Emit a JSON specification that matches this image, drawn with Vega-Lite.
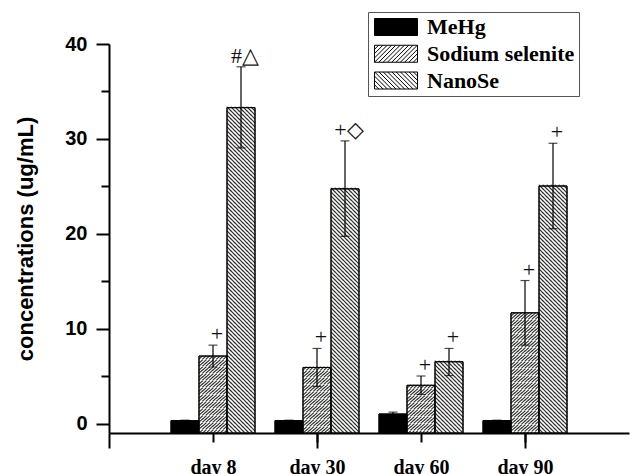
{
  "$schema": "https://vega.github.io/schema/vega-lite/v6.json",
  "width": 520,
  "height": 389,
  "autosize": {"type": "none"},
  "padding": {"left": 109, "top": 44, "right": 1, "bottom": 41},
  "background": "white",
  "config": {
    "view": {"stroke": null},
    "axis": {"domainColor": "black", "tickColor": "black", "labelColor": "black", "titleColor": "black", "domainWidth": 2, "tickWidth": 2, "grid": false},
    "legend": {
      "orient": "none", "legendX": 259, "legendY": -32, "padding": 4,
      "strokeColor": "#555", "fillColor": "white",
      "labelFont": "Liberation Serif", "labelFontWeight": "bold", "labelFontSize": 22, "labelColor": "black",
      "labelOffset": 20, "symbolOffset": 13, "symbolSize": 289, "symbolStrokeColor": "black", "symbolStrokeWidth": 1, "rowPadding": 4.75
    }
  },
  "datasets": {
    "bars": [
      {"day": "day 8", "series": "MeHg", "value": 0.35, "low": 0.3, "high": 0.4},
      {"day": "day 8", "series": "Sodium selenite", "value": 7.15, "low": 6.0, "high": 8.3},
      {"day": "day 8", "series": "NanoSe", "value": 33.3, "low": 29.05, "high": 37.6},
      {"day": "day 30", "series": "MeHg", "value": 0.35, "low": 0.3, "high": 0.4},
      {"day": "day 30", "series": "Sodium selenite", "value": 5.95, "low": 3.95, "high": 7.95},
      {"day": "day 30", "series": "NanoSe", "value": 24.75, "low": 19.75, "high": 29.8},
      {"day": "day 60", "series": "MeHg", "value": 1.05, "low": 0.85, "high": 1.25},
      {"day": "day 60", "series": "Sodium selenite", "value": 4.07, "low": 3.1, "high": 5.05},
      {"day": "day 60", "series": "NanoSe", "value": 6.55, "low": 5.1, "high": 7.95},
      {"day": "day 90", "series": "MeHg", "value": 0.35, "low": 0.3, "high": 0.4},
      {"day": "day 90", "series": "Sodium selenite", "value": 11.7, "low": 8.3, "high": 15.1},
      {"day": "day 90", "series": "NanoSe", "value": 25.05, "low": 20.55, "high": 29.55}
    ],
    "ann": [
      {"day": "day 8", "series": "Sodium selenite", "high": 8.3, "label": "+"},
      {"day": "day 8", "series": "NanoSe", "high": 37.6, "label": "#△"},
      {"day": "day 30", "series": "Sodium selenite", "high": 7.95, "label": "+"},
      {"day": "day 30", "series": "NanoSe", "high": 29.8, "label": "+◇"},
      {"day": "day 60", "series": "Sodium selenite", "high": 5.05, "label": "+"},
      {"day": "day 60", "series": "NanoSe", "high": 7.95, "label": "+"},
      {"day": "day 90", "series": "Sodium selenite", "high": 15.1, "label": "+"},
      {"day": "day 90", "series": "NanoSe", "high": 29.55, "label": "+"}
    ]
  },
  "layer": [
    {
      "data": {"name": "bars"},
      "encoding": {
        "x": {"field": "day", "type": "nominal", "scale": {"domain": ["day 8", "day 30", "day 60", "day 90"], "paddingInner": 0.1923077, "paddingOuter": 0.5961538, "align": 0.5}, "axis": null},
        "xOffset": {"field": "series", "type": "nominal", "scale": {"domain": ["MeHg", "Sodium selenite", "NanoSe"], "paddingInner": 0, "paddingOuter": 0}}
      },
      "layer": [
        {
          "mark": {"type": "bar", "stroke": "black", "strokeWidth": 1},
          "encoding": {
            "y": {"field": "value", "type": "quantitative", "scale": {"domain": [-0.95, 40], "nice": false, "zero": false},
              "axis": {"values": [0, 10, 20, 30, 40], "tickSize": 13, "labelPadding": 9, "labelFont": "Liberation Sans", "labelFontWeight": "bold", "labelFontSize": 20,
                "title": "concentrations (ug/mL)", "titleFont": "Liberation Sans", "titleFontWeight": "bold", "titleFontSize": 22, "titlePadding": 27}},
            "y2": {"datum": -0.95},
            "color": {"field": "series", "type": "nominal", "scale": {"domain": ["MeHg", "Sodium selenite", "NanoSe"], "range": ["black", "white", "white"]},
              "legend": {"title": null, "encode": {"symbols": {"update": {"stroke": {"value": "black"}, "strokeWidth": {"value": 1}}}}}}
          }
        },
        {
          "transform": [{"filter": "datum.series === 'Sodium selenite'"}],
          "mark": {"type": "text", "clip": true, "baseline": "top", "align": "center", "font": "Noto Sans CJK SC", "fontSize": 3.5, "lineHeight": 3.5, "color": "#111", "stroke": "#111", "strokeWidth": 0.7},
          "encoding": {
            "y": {"field": "value", "type": "quantitative", "scale": {"domain": [-0.95, 40], "nice": false, "zero": false}},
            "text": {"value": ["╱╱╱╱╱╱╱╱","╱╱╱╱╱╱╱╱","╱╱╱╱╱╱╱╱","╱╱╱╱╱╱╱╱","╱╱╱╱╱╱╱╱","╱╱╱╱╱╱╱╱","╱╱╱╱╱╱╱╱","╱╱╱╱╱╱╱╱","╱╱╱╱╱╱╱╱","╱╱╱╱╱╱╱╱","╱╱╱╱╱╱╱╱","╱╱╱╱╱╱╱╱","╱╱╱╱╱╱╱╱","╱╱╱╱╱╱╱╱","╱╱╱╱╱╱╱╱","╱╱╱╱╱╱╱╱","╱╱╱╱╱╱╱╱","╱╱╱╱╱╱╱╱","╱╱╱╱╱╱╱╱","╱╱╱╱╱╱╱╱","╱╱╱╱╱╱╱╱","╱╱╱╱╱╱╱╱","╱╱╱╱╱╱╱╱","╱╱╱╱╱╱╱╱","╱╱╱╱╱╱╱╱","╱╱╱╱╱╱╱╱","╱╱╱╱╱╱╱╱","╱╱╱╱╱╱╱╱","╱╱╱╱╱╱╱╱","╱╱╱╱╱╱╱╱","╱╱╱╱╱╱╱╱","╱╱╱╱╱╱╱╱","╱╱╱╱╱╱╱╱","╱╱╱╱╱╱╱╱","╱╱╱╱╱╱╱╱","╱╱╱╱╱╱╱╱","╱╱╱╱╱╱╱╱","╱╱╱╱╱╱╱╱","╱╱╱╱╱╱╱╱","╱╱╱╱╱╱╱╱"]}
          }
        },
        {
          "transform": [{"filter": "datum.series === 'NanoSe'"}],
          "mark": {"type": "text", "clip": true, "baseline": "top", "align": "center", "font": "Noto Sans CJK SC", "fontSize": 4, "lineHeight": 4, "color": "#111", "stroke": "#111", "strokeWidth": 0.7},
          "encoding": {
            "y": {"field": "value", "type": "quantitative", "scale": {"domain": [-0.95, 40], "nice": false, "zero": false}},
            "text": {"value": ["╲╲╲╲╲╲╲","╲╲╲╲╲╲╲","╲╲╲╲╲╲╲","╲╲╲╲╲╲╲","╲╲╲╲╲╲╲","╲╲╲╲╲╲╲","╲╲╲╲╲╲╲","╲╲╲╲╲╲╲","╲╲╲╲╲╲╲","╲╲╲╲╲╲╲","╲╲╲╲╲╲╲","╲╲╲╲╲╲╲","╲╲╲╲╲╲╲","╲╲╲╲╲╲╲","╲╲╲╲╲╲╲","╲╲╲╲╲╲╲","╲╲╲╲╲╲╲","╲╲╲╲╲╲╲","╲╲╲╲╲╲╲","╲╲╲╲╲╲╲","╲╲╲╲╲╲╲","╲╲╲╲╲╲╲","╲╲╲╲╲╲╲","╲╲╲╲╲╲╲","╲╲╲╲╲╲╲","╲╲╲╲╲╲╲","╲╲╲╲╲╲╲","╲╲╲╲╲╲╲","╲╲╲╲╲╲╲","╲╲╲╲╲╲╲","╲╲╲╲╲╲╲","╲╲╲╲╲╲╲","╲╲╲╲╲╲╲","╲╲╲╲╲╲╲","╲╲╲╲╲╲╲","╲╲╲╲╲╲╲","╲╲╲╲╲╲╲","╲╲╲╲╲╲╲","╲╲╲╲╲╲╲","╲╲╲╲╲╲╲","╲╲╲╲╲╲╲","╲╲╲╲╲╲╲","╲╲╲╲╲╲╲","╲╲╲╲╲╲╲","╲╲╲╲╲╲╲","╲╲╲╲╲╲╲","╲╲╲╲╲╲╲","╲╲╲╲╲╲╲","╲╲╲╲╲╲╲","╲╲╲╲╲╲╲","╲╲╲╲╲╲╲","╲╲╲╲╲╲╲","╲╲╲╲╲╲╲","╲╲╲╲╲╲╲","╲╲╲╲╲╲╲","╲╲╲╲╲╲╲","╲╲╲╲╲╲╲","╲╲╲╲╲╲╲","╲╲╲╲╲╲╲","╲╲╲╲╲╲╲","╲╲╲╲╲╲╲","╲╲╲╲╲╲╲","╲╲╲╲╲╲╲","╲╲╲╲╲╲╲","╲╲╲╲╲╲╲","╲╲╲╲╲╲╲","╲╲╲╲╲╲╲","╲╲╲╲╲╲╲","╲╲╲╲╲╲╲","╲╲╲╲╲╲╲","╲╲╲╲╲╲╲","╲╲╲╲╲╲╲","╲╲╲╲╲╲╲","╲╲╲╲╲╲╲","╲╲╲╲╲╲╲","╲╲╲╲╲╲╲","╲╲╲╲╲╲╲","╲╲╲╲╲╲╲","╲╲╲╲╲╲╲","╲╲╲╲╲╲╲","╲╲╲╲╲╲╲","╲╲╲╲╲╲╲","╲╲╲╲╲╲╲","╲╲╲╲╲╲╲","╲╲╲╲╲╲╲"]}
          }
        },
        {
          "mark": {"type": "bar", "fillOpacity": 0, "fill": "white", "stroke": "black", "strokeWidth": 1},
          "encoding": {
            "y": {"field": "value", "type": "quantitative", "scale": {"domain": [-0.95, 40], "nice": false, "zero": false}},
            "y2": {"datum": -0.95}
          }
        },
        {
          "mark": {"type": "rule", "color": "black", "strokeWidth": 1.2},
          "encoding": {
            "y": {"field": "low", "type": "quantitative", "scale": {"domain": [-0.95, 40], "nice": false, "zero": false}},
            "y2": {"field": "high"}
          }
        },
        {
          "mark": {"type": "tick", "color": "black", "size": 9, "thickness": 1.2},
          "encoding": {
            "y": {"field": "high", "type": "quantitative", "scale": {"domain": [-0.95, 40], "nice": false, "zero": false}}
          }
        },
        {
          "mark": {"type": "tick", "color": "black", "size": 9, "thickness": 1.2},
          "encoding": {
            "y": {"field": "low", "type": "quantitative", "scale": {"domain": [-0.95, 40], "nice": false, "zero": false}}
          }
        },
        {
          "mark": {"type": "point", "filled": true, "opacity": 0},
          "encoding": {
            "y": {"field": "value", "type": "quantitative", "scale": {"domain": [-0.95, 40], "nice": false, "zero": false}},
            "color": {"field": "series", "type": "nominal", "scale": {"domain": ["MeHg", "Sodium selenite", "NanoSe"], "range": ["black", "white", "white"]}, "legend": {"title": null}},
            "shape": {"field": "series", "type": "nominal", "legend": {"title": null},
              "scale": {"domain": ["MeHg", "Sodium selenite", "NanoSe"], "range": [
                "M-2.529,-1H2.529V1H-2.529Z",
                "M-2.529,-1H2.529V1H-2.529Z M-2.529,-0.519L-2.049,-1 M-2.529,-0.013L-1.543,-1 M-2.529,0.493L-1.037,-1 M-2.529,1L-0.531,-1 M-2.024,1L-0.025,-1 M-1.518,1L0.481,-1 M-1.012,1L0.986,-1 M-0.506,1L1.492,-1 M0,1L1.998,-1 M0.506,1L2.504,-1 M1.012,1L2.529,-0.519 M1.518,1L2.529,-0.013 M2.024,1L2.529,0.493",
                "M-2.529,-1H2.529V1H-2.529Z M2.529,-0.519L2.049,-1 M2.529,-0.013L1.543,-1 M2.529,0.493L1.037,-1 M2.529,1L0.531,-1 M2.024,1L0.025,-1 M1.518,1L-0.481,-1 M1.012,1L-0.986,-1 M0.506,1L-1.492,-1 M0,1L-1.998,-1 M-0.506,1L-2.504,-1 M-1.012,1L-2.529,-0.519 M-1.518,1L-2.529,-0.013 M-2.024,1L-2.529,0.493"
              ]}}
          }
        },
        {
          "data": {"name": "ann"},
          "mark": {"type": "text", "font": "Liberation Serif", "fontSize": 22, "color": "#111", "baseline": "middle", "align": "center", "dy": -11, "dx": 4},
          "encoding": {
            "y": {"field": "high", "type": "quantitative", "scale": {"domain": [-0.95, 40], "nice": false, "zero": false}},
            "text": {"field": "label"}
          }
        }
      ]
    },
    {
      "data": {"values": [{}]},
      "mark": {"type": "rule", "opacity": 0},
      "encoding": {
        "x": {"datum": 0, "type": "quantitative", "scale": {"domain": [0, 5], "nice": false, "zero": false},
          "axis": {"orient": "bottom", "values": [1, 2, 3, 4], "tickSize": 9, "title": null,
            "labelExpr": "datum.value == 1 ? 'day 8' : datum.value == 2 ? 'day 30' : datum.value == 3 ? 'day 60' : datum.value == 4 ? 'day 90' : ''",
            "labelFont": "Liberation Serif", "labelFontWeight": "bold", "labelFontSize": 20, "labelPadding": 15, "labelDx": -9}}
      }
    },
    {
      "data": {"values": [{}]},
      "mark": {"type": "rule", "opacity": 0},
      "encoding": {
        "x": {"datum": 0, "type": "quantitative", "scale": {"domain": [0, 5], "nice": false, "zero": false},
          "axis": {"orient": "bottom", "values": [0, 2, 4], "tickSize": 15, "title": null, "labels": false, "domain": false}}
      }
    },
    {
      "data": {"values": [{}]},
      "mark": {"type": "rule", "opacity": 0},
      "encoding": {
        "y": {"datum": 0, "type": "quantitative", "scale": {"domain": [-0.95, 40], "nice": false, "zero": false},
          "axis": {"orient": "left", "values": [5, 15, 25, 35], "tickSize": 8, "title": null, "labels": false, "domain": false}}
      }
    }
  ],
  "resolve": {"scale": {"x": "independent", "y": "independent"}, "axis": {"x": "independent", "y": "independent"}}
}
